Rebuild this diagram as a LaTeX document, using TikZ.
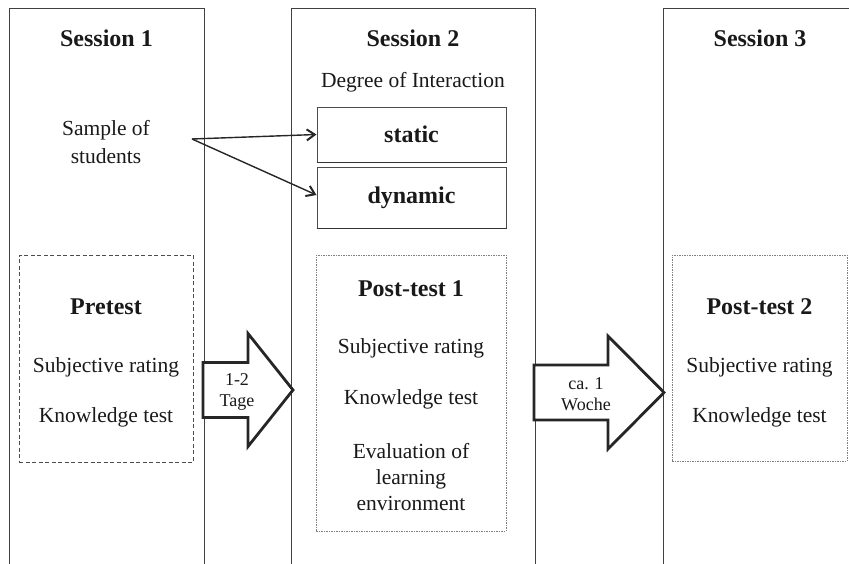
\documentclass[tikz,border=0pt]{standalone}
\usepackage{fontspec}
\setmainfont{Liberation Serif}
\usetikzlibrary{arrows.meta}

\begin{document}
\begin{tikzpicture}[x=1pt, y=-1pt,
  txt/.style={font=\fontsize{21.5}{26}\selectfont, text=black!90, align=center, inner sep=0pt},
  ttl/.style={font=\fontsize{24}{28}\selectfont\bfseries, text=black!90, inner sep=0pt},
  lbl/.style={font=\fontsize{18}{21}\selectfont, text=black!90, align=center, inner sep=0pt},
  frame/.style={draw=black!75, line width=0.9pt},
  condbox/.style={draw=black!70, line width=1pt, minimum width=189pt,
    font=\fontsize{24}{28}\selectfont\bfseries, text=black!90},
  prebox/.style={draw=black!70, line width=1pt, dash pattern=on 4pt off 2.5pt},
  postbox/.style={draw=black!50, line width=0.8pt, dash pattern=on 1.5pt off 1pt},
  fork arrow/.style={draw=black!85, line width=1.4pt,
    -{Straight Barb[length=8pt,width=11pt,line width=2pt]}},
  bigarrow/.style={draw=black!85, fill=white, line width=2.8pt, miter limit=10}]
  \useasboundingbox (0,0) rectangle (849,563);

  %% ── Session columns (open at the bottom) ───────────────────
  \foreach \xl/\xr in {9/204, 291/535, 663/880}{
    \draw[frame] (\xl,575) -- (\xl,8) -- (\xr,8) -- (\xr,575);
  }
  \foreach \x/\n in {106.5/1, 413/2, 760/3}{
    \node[ttl] (sess\n) at (\x,38) {Session \n};
  }

  %% ── Group assignment ───────────────────────────────────────
  \node[txt, font=\fontsize{21.5}{28}\selectfont] (sample) at (106,142) {Sample of\\students};
  \node[txt] (degree) at (413,82) {Degree of Interaction};
  \node[condbox, minimum height=55pt] (static)  at (411.5,134.5) {static};
  \node[condbox, minimum height=61pt] (dynamic) at (411.5,197.5) {dynamic};
  \draw[black!80, line width=1.8pt] (static.south west) -- (static.south east);
  \draw[black!80, line width=1.8pt] (dynamic.south west) -- (dynamic.south east);
  \coordinate (fork) at (192,139);
  \draw[fork arrow] (fork) -- (static.west);
  \draw[fork arrow] (fork) -- ([yshift=2.5pt]dynamic.west);

  %% ── Test boxes ─────────────────────────────────────────────
  \node[prebox,  minimum width=174pt, minimum height=207pt] (prebx)   at (106,358.5) {};
  \node[postbox, minimum width=190pt, minimum height=276pt] (postbxa) at (411,393) {};
  \node[postbox, minimum width=175pt, minimum height=206pt] (postbxb) at (759.5,358) {};

  %% pretest / post-test 2: title, rating, knowledge
  \foreach \x/\nm/\ttext in {106/pre/{Pretest}, 759.5/postb/{Post-test 2}}{
    \node[ttl] (\nm title) at (\x,307) {\ttext};
    \node[txt] (\nm rating) at (\x,367) {Subjective rating};
    \node[txt] (\nm know) at (\x,417.5) {Knowledge test};
  }
  \node[ttl] (posta title)  at (411,289) {Post-test 1};
  \node[txt] (posta rating) at (411,348) {Subjective rating};
  \node[txt] (posta know)   at (411,399) {Knowledge test};
  \node[txt] (posta eval)   at (411,477.5) {Evaluation of\\learning\\environment};

  %% ── Time gaps: x shaft start / head base / tip / y centre / label x ──
  \foreach \xa/\xb/\xc/\yc/\xl/\nm/\ltext in {
    203/248/293/390/237/gapa/{1-2\\Tage},
    534/608/664/392.5/586/gapb/{ca. 1\\Woche}}{
    \draw[bigarrow] (\xa,{\yc-27.5}) -- (\xb,{\yc-27.5}) -- (\xb,{\yc-56.5})
      -- (\xc,\yc) -- (\xb,{\yc+56.5}) -- (\xb,{\yc+27.5}) -- (\xa,{\yc+27.5}) -- cycle;
    \node[lbl] (\nm) at (\xl,{\yc+2}) {\ltext};
  }
\end{tikzpicture}
\end{document}
